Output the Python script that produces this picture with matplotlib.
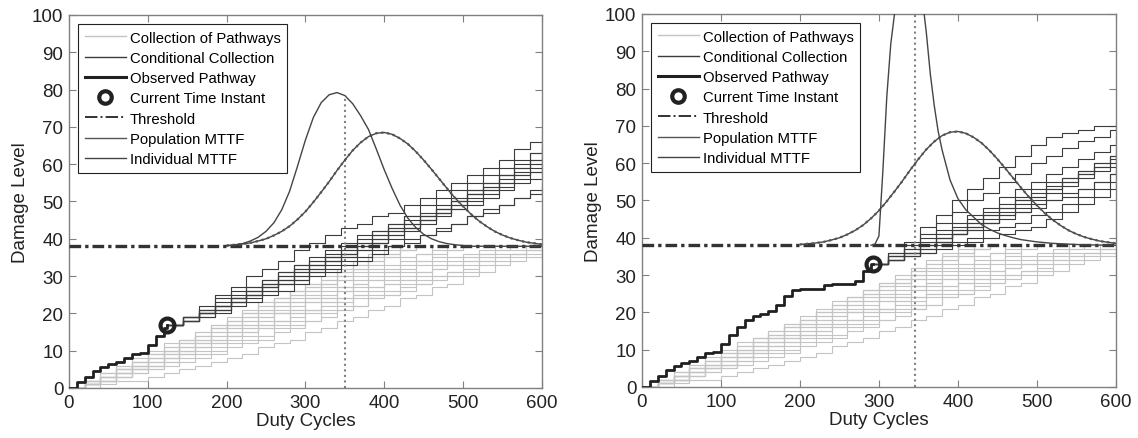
import numpy as np
import matplotlib
matplotlib.use("Agg")
import matplotlib.pyplot as plt
from matplotlib.lines import Line2D

plt.rcParams['font.family'] = ['Liberation Sans', 'DejaVu Sans']

# observed damage pathway, sampled every 10 duty cycles
observed = [0, 1.5, 3, 4.5, 5.5, 6.5, 7, 8, 9, 9.5, 11.5, 14, 16, 18, 19, 19.5, 20.5,
            22, 24.5, 26, 26.3, 26.3, 26.3, 27.3, 27.5, 27.5, 27.6, 28.5, 31, 33]

# current time instant (left, right)
current_t = [125, 292]
current_d = [17, 33]

threshold = 38

# collection of pathways, sampled every 20 duty cycles (stop at threshold)
light_paths = [
    [0, 2, 4, 5, 7, 9, 11, 13, 14, 16, 18, 20, 21, 23, 25, 27, 28, 30, 32, 34, 36, 37, 38],
    [0, 1, 3, 5, 6, 8, 10, 11, 13, 15, 17, 18, 20, 22, 23, 25, 27, 29, 30, 32, 33, 35, 36, 38],
    [0, 1, 2, 4, 5, 6, 8, 10, 12, 13, 15, 16, 18, 20, 21, 23, 24, 26, 27, 29, 30, 31, 33, 34, 35, 36, 37, 38],
    [0, 2, 3, 5, 7, 9, 10, 12, 14, 16, 17, 19, 21, 23, 25, 26, 28, 30, 32, 34, 35, 37, 38],
    [0, 1, 2, 3, 5, 6, 7, 9, 10, 11, 13, 14, 16, 17, 18, 20, 21, 22, 24, 25, 26, 28, 29, 30, 31, 33, 34, 35, 36, 37, 38],
    [0, 1, 3, 4, 6, 8, 10, 12, 14, 16, 18, 20, 22, 24, 26, 28, 29, 31, 33, 35, 36, 38],
    [0, 1, 2, 4, 5, 6, 8, 9, 11, 12, 14, 15, 17, 18, 20, 21, 23, 24, 26, 27, 29, 30, 31, 33, 34, 35, 36, 37, 37, 38],
    [0, 2, 4, 6, 8, 10, 12, 13, 15, 17, 19, 21, 23, 24, 26, 28, 30, 32, 34, 36, 38],
    [0, 1, 2, 3, 4, 5, 7, 8, 9, 10, 12, 13, 14, 16, 17, 18, 20, 21, 22, 24, 25, 26, 28, 29, 30, 31, 33, 34, 35, 36, 37],
    [0, 1, 3, 4, 6, 7, 9, 11, 12, 14, 16, 17, 19, 20, 22, 24, 25, 27, 28, 30, 31, 33, 34, 36, 37, 38],
    [0, 2, 3, 5, 7, 8, 10, 12, 13, 15, 17, 19, 20, 22, 24, 26, 28, 29, 31, 33, 35, 37, 38],
    [0, 1, 2, 3, 5, 6, 8, 9, 11, 12, 14, 15, 16, 18, 19, 21, 22, 23, 25, 26, 28, 29, 30, 32, 33, 34, 36, 37, 38],
    [0, 0, 1, 2, 2, 3, 4, 5, 6, 7, 8, 9, 11, 12, 13, 15, 16, 18, 19, 21, 22, 24, 25, 27, 28, 30, 31, 33, 34, 35, 36],
    [0, 1, 2, 3, 4, 5, 6, 7, 8, 9, 11, 12, 13, 15, 16, 18, 19, 21, 22, 24, 25, 27, 28, 30, 31, 32, 34, 35, 36, 37, 38],
    [0, 2, 3, 5, 6, 8, 9, 11, 13, 14, 16, 18, 19, 21, 23, 24, 26, 27, 29, 31, 32, 34, 36, 37, 38],
    [0, 1, 3, 4, 6, 7, 9, 10, 12, 13, 15, 17, 18, 20, 21, 23, 24, 26, 28, 29, 31, 32, 34, 35, 37, 38],
    [0, 2, 4, 6, 7, 9, 11, 13, 15, 17, 18, 20, 22, 24, 26, 27, 29, 31, 33, 35, 37, 38],
    [0, 1, 2, 4, 5, 7, 8, 10, 11, 13, 14, 16, 17, 18, 20, 21, 23, 24, 25, 27, 28, 29, 31, 32, 33, 34, 35, 36, 36, 37, 37],
]

# conditional collection from the current time, every 20 cycles, last value at 600
cond_left = [
    [17, 19, 22, 25, 27, 30, 32, 34, 37, 39, 41, 43, 44, 46, 47, 49, 51, 53, 55, 57, 59, 61, 64, 66, 69],
    [17, 18, 20, 22, 24, 26, 28, 29, 31, 33, 35, 36, 38, 40, 42, 44, 46, 48, 50, 52, 54, 56, 58, 60, 62],
    [17, 19, 20, 22, 23, 25, 27, 28, 29, 31, 32, 34, 35, 37, 38, 40, 41, 43, 44, 46, 48, 49, 51, 53, 55],
    [17, 18, 19, 21, 23, 24, 26, 28, 30, 32, 34, 36, 38, 40, 42, 43, 45, 47, 49, 51, 53, 55, 57, 59, 61],
    [17, 19, 21, 22, 24, 25, 27, 29, 31, 33, 34, 36, 38, 39, 41, 43, 45, 47, 48, 50, 52, 54, 56, 58, 60],
    [17, 18, 20, 21, 23, 25, 26, 28, 29, 31, 33, 35, 37, 39, 41, 43, 45, 47, 49, 52, 54, 57, 60, 63, 66],
    [17, 19, 21, 23, 24, 26, 28, 30, 32, 34, 35, 37, 39, 41, 43, 45, 46, 48, 50, 52, 53, 55, 57, 58, 60],
    [17, 18, 19, 20, 22, 23, 25, 26, 28, 30, 31, 33, 34, 36, 38, 39, 41, 42, 44, 46, 47, 49, 51, 52, 54],
    [17, 19, 21, 24, 26, 27, 29, 31, 33, 34, 36, 38, 40, 42, 44, 46, 49, 51, 53, 55, 57, 59, 61, 63, 65],
    [17, 18, 20, 22, 25, 27, 29, 30, 32, 33, 35, 37, 39, 41, 43, 44, 46, 48, 50, 53, 55, 57, 59, 61, 64],
    [17, 19, 20, 21, 23, 25, 27, 29, 30, 32, 34, 35, 37, 39, 40, 42, 44, 46, 48, 49, 51, 53, 55, 56, 58],
    [17, 18, 20, 22, 24, 26, 28, 31, 33, 35, 37, 39, 41, 42, 44, 46, 47, 49, 51, 53, 55, 57, 59, 61, 63],
]
cond_right = [
    [33, 36, 39, 43, 46, 50, 53, 56, 59, 62, 65, 67, 68, 69, 70, 70, 71],
    [33, 34, 36, 38, 40, 42, 44, 46, 48, 50, 52, 54, 56, 58, 60, 62, 63],
    [33, 34, 35, 36, 37, 38, 39, 40, 41, 42, 43, 45, 47, 49, 51, 53, 55],
    [33, 35, 37, 39, 41, 43, 45, 47, 49, 51, 53, 55, 56, 58, 60, 62, 64],
    [33, 34, 36, 37, 39, 41, 43, 44, 46, 48, 50, 52, 54, 56, 58, 59, 61],
    [33, 35, 38, 40, 42, 44, 46, 48, 51, 53, 55, 57, 59, 61, 63, 65, 67],
    [33, 34, 35, 36, 38, 39, 40, 42, 43, 44, 46, 47, 49, 51, 53, 55, 57],
    [33, 35, 36, 38, 40, 41, 43, 45, 47, 49, 51, 53, 55, 57, 59, 61, 62],
    [33, 34, 36, 38, 39, 41, 42, 44, 45, 47, 48, 50, 51, 53, 55, 57, 58],
    [33, 36, 38, 41, 44, 47, 50, 52, 55, 57, 60, 62, 64, 66, 67, 69, 70],
    [33, 34, 35, 37, 39, 41, 42, 44, 46, 47, 49, 50, 52, 53, 55, 57, 59],
    [33, 35, 37, 38, 40, 42, 44, 46, 48, 50, 51, 53, 55, 57, 59, 60, 62],
]

# MTTF density curves (drawn on top of the threshold), cycles 200..600 every 10
pop_mttf = [38.2, 38.4, 38.6, 38.9, 39.4, 40.0, 40.9, 42.0, 43.4, 45.2, 47.3, 49.8, 52.5, 55.3,
            58.3, 61.1, 63.7, 65.8, 67.4, 68.3, 68.5, 68.0, 66.9, 65.4, 63.4, 61.1, 58.6, 56.0,
            53.4, 50.9, 48.7, 46.6, 44.8, 43.3, 42.0, 41.0, 40.2, 39.6, 39.1, 38.8, 38.5]
ind_left = [38.1, 38.3, 38.7, 39.4, 40.4, 42.0, 44.3, 47.8, 52.8, 59.5, 66.5, 72.5, 76.5, 78.6,
            79.2, 78.4, 76.2, 73.0, 69.3, 64.0, 58.5, 53.5, 49.0, 45.5, 43.0, 41.2, 40.0, 39.2,
            38.7, 38.4, 38.2, 38.0, 38.0, 38.0, 38.0, 38.0, 38.0, 38.0, 38.0, 38.0, 38.0]
ind_right_x = [290, 295, 300, 305, 310, 315, 320, 325, 330, 340, 350, 355, 360, 365, 370, 375, 380,
               390, 400, 410, 420, 430, 440, 450, 460, 470, 480, 490, 500, 520, 540, 560, 600]
ind_right = [38.0, 38.3, 40.5, 58, 78, 92, 100.5, 115, 125, 130, 118, 104, 95, 84, 75.5, 68.5, 63.5,
             55.5, 50.5, 47.5, 45.5, 43.5, 42.3, 41.3, 40.6, 40.0, 39.5, 39.2, 38.9, 38.5, 38.3, 38.1, 38.0]

# vertical MTTF marker: position and top
mttf_mark = [350, 346]
mttf_top = [78.5, 100]

light_c = '#c4c4c4'
dark_c = '#3c3c3c'

fig = plt.figure(figsize=(11.38, 4.39), dpi=100)
ax_l = fig.add_axes([0.0606, 0.1139, 0.4156, 0.8497])
ax_r = fig.add_axes([0.5641, 0.1162, 0.4165, 0.8497])

mttf_x = np.arange(200, 601, 10)
obs_x = np.arange(len(observed)) * 10

panels = [(ax_l, cond_left, ind_left, None), (ax_r, cond_right, ind_right, ind_right_x)]
for i, (ax, cond, ind, ind_x) in enumerate(panels):
    for p in light_paths:
        ax.plot(np.arange(len(p)) * 20, p, color=light_c, lw=0.8, drawstyle='steps-post', zorder=1)
    cx = np.append(np.arange(current_t[i], 600, 20), 600)
    for p in cond:
        ax.plot(cx, p, color=dark_c, lw=0.8, drawstyle='steps-post', zorder=2)

    keep = obs_x <= current_t[i]
    ox = np.append(obs_x[keep], current_t[i])
    oy = np.append(np.array(observed)[keep], current_d[i])
    ax.plot(ox, oy, color='#202020', lw=2.0, drawstyle='steps-post', zorder=4)

    ax.axhline(threshold, color='#333333', lw=2.4, dashes=(3.5, 1.2, 1, 1.2), zorder=3)

    ax.plot(mttf_x, pop_mttf, color='#444444', lw=1.0, zorder=5)
    ax.plot(mttf_x, pop_mttf, color='#555555', lw=1.6, ls=':', zorder=5)
    if ind_x is None:
        ax.plot(mttf_x, ind, color='#444444', lw=1.0, zorder=5)
    else:
        ax.plot(ind_x, ind, color='#444444', lw=1.0, zorder=5)

    ax.plot([mttf_mark[i], mttf_mark[i]], [0, mttf_top[i]], color='#808080', lw=1.5, ls=':', zorder=2)

    ax.plot(current_t[i], current_d[i], 'o', ms=10, mfc='none', mec='#222222', mew=3, zorder=6)

    ax.set_xlim(0, 600)
    ax.set_ylim(0, 100)
    ax.set_xticks(range(0, 601, 100))
    ax.set_yticks(range(0, 101, 10))
    ax.tick_params(direction='in', length=5, top=True, right=True, labelsize=13.5,
                   colors='#222222', pad=4)
    ax.tick_params(axis='both', color='#808080')
    for s in ax.spines.values():
        s.set_color('#808080')
        s.set_linewidth(1.0)
    ax.set_xlabel('Duty Cycles', fontsize=13.5, labelpad=1, color='#222222')
    ax.set_ylabel('Damage Level', fontsize=13.5, labelpad=2, color='#222222')

    handles = [
        Line2D([], [], color=light_c, lw=1.0),
        Line2D([], [], color=dark_c, lw=1.0),
        Line2D([], [], color='#202020', lw=2.2),
        Line2D([], [], ls='none', marker='o', ms=9, mfc='none', mec='#222222', mew=3),
        Line2D([], [], color='#333333', lw=1.4, ls='-.'),
        Line2D([], [], color='#555555', lw=1.0),
        Line2D([], [], color='#444444', lw=1.0),
    ]
    labels = ['Collection of Pathways', 'Conditional Collection', 'Observed Pathway',
              'Current Time Instant', 'Threshold', 'Population MTTF', 'Individual MTTF']
    leg = ax.legend(handles, labels, loc='upper left', fontsize=10.7, handlelength=2.8,
                    handletextpad=0.25, labelspacing=0.42, borderaxespad=0.6,
                    fancybox=False, framealpha=1, borderpad=0.45)
    leg.get_frame().set_edgecolor('#222222')
    leg.get_frame().set_linewidth(0.8)
    leg.set_zorder(10)

fig.savefig('out.png', dpi=100)
